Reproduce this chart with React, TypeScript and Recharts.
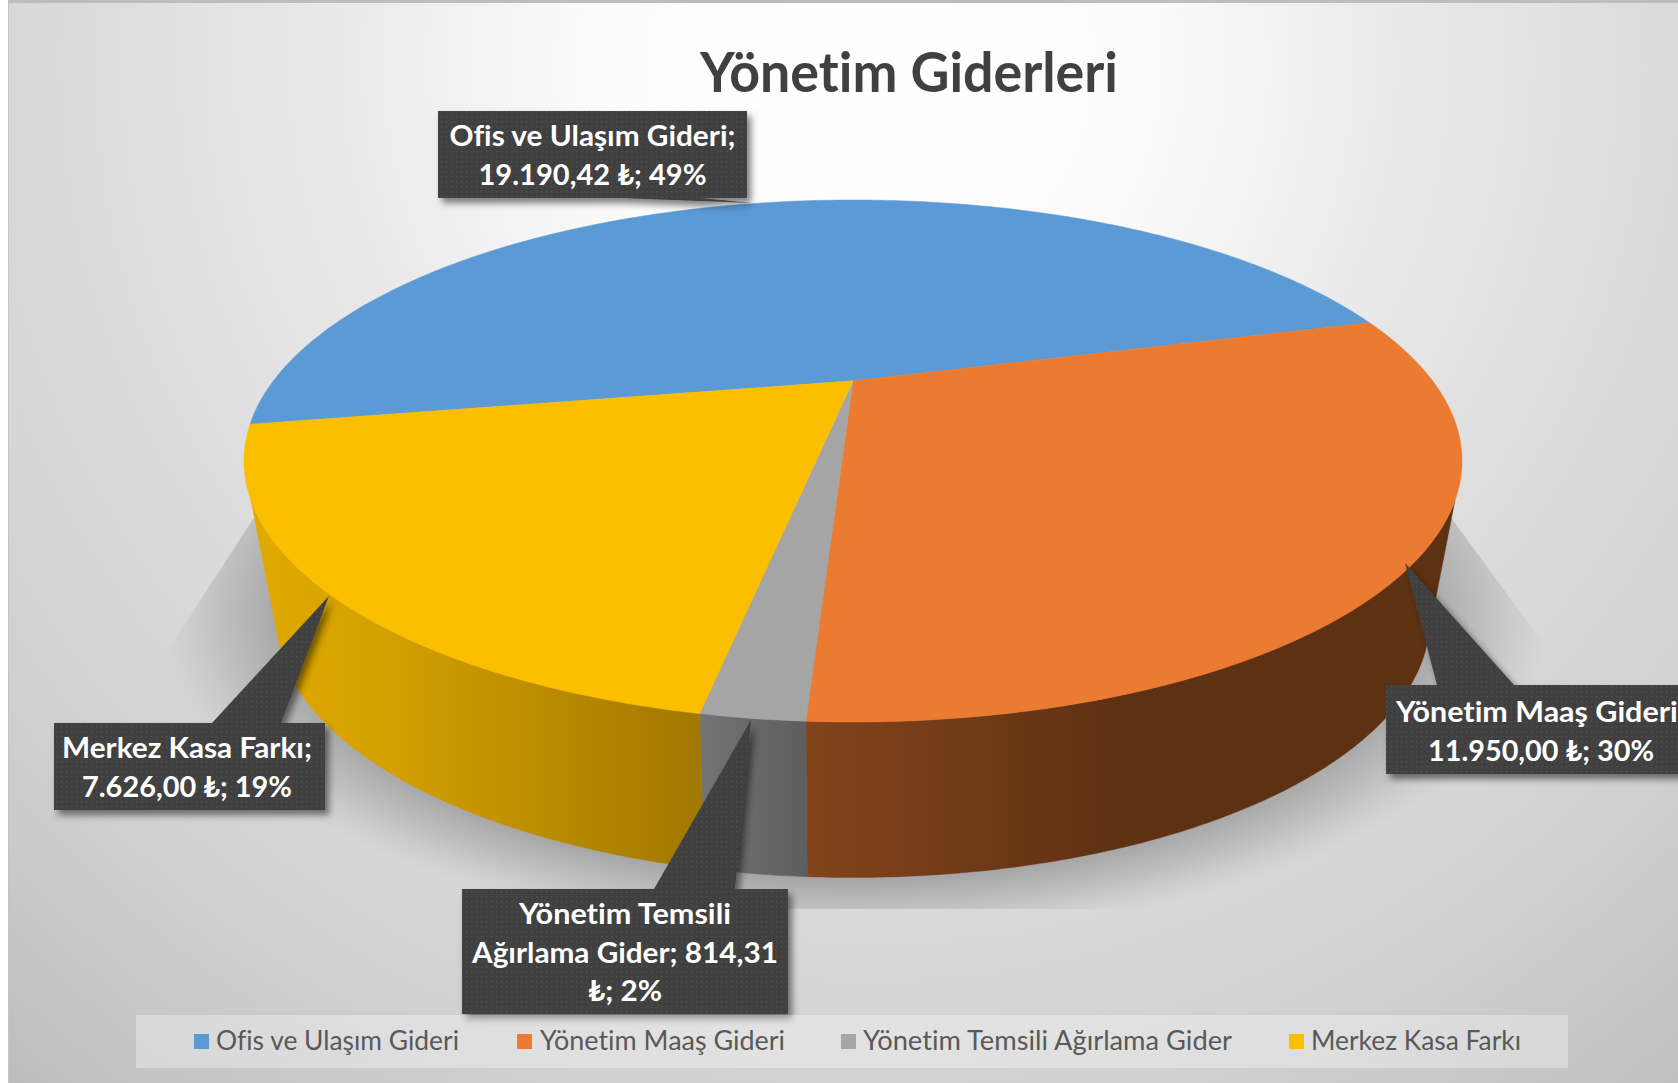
import React from 'react';
import { PieChart, Pie, Legend } from 'recharts';

const categories = ['Ofis ve Ulaşım Gideri', 'Yönetim Maaş Gideri', 'Yönetim Temsili Ağırlama Gider', 'Merkez Kasa Farkı'];
const values = [19190.42, 11950.0, 814.31, 7626.0];
const topColors = ['#5B9AD5', '#EB7B30', '#A5A5A5', '#FBBF00'];
const wallFills = ['#3b6a94', 'url(#wallOrange)', 'url(#wallGray)', 'url(#wallYellow)'];
const calloutLines = [
  ['Ofis ve Ulaşım Gideri;', '19.190,42 ₺; 49%'],
  ['Yönetim Maaş Gideri;', '11.950,00 ₺; 30%'],
  ['Yönetim Temsili', 'Ağırlama Gider; 814,31', '₺; 2%'],
  ['Merkez Kasa Farkı;', '7.626,00 ₺; 19%'],
];

// layout of the callouts: box, pointer, and each text line's width
const calloutBoxes = [
  { x: 438, y: 111, w: 309, h: 87, base: [620, 701], tip: [752, 203], firstBaseline: 146, widths: [286, 228] },
  { x: 1386, y: 685, w: 300, h: 89, base: [1437, 1514], tip: [1405, 563], firstBaseline: 722, widths: [290, 226], textCentre: 1541 },
  { x: 462, y: 889, w: 326, h: 125, base: [654, 735], tip: [751, 720], firstBaseline: 924, widths: [212, 306, 74] },
  { x: 54, y: 723, w: 271, h: 87, base: [212, 281], tip: [329, 596], firstBaseline: 758, widths: [250, 210], textCentre: 187 },
];
const LINE_GAP = 38.6;

const legendItems = [
  { sq: 58, tx: 80, w: 243 },
  { sq: 381, tx: 404, w: 245 },
  { sq: 705, tx: 727, w: 369 },
  { sq: 1153, tx: 1175, w: 210 },
];

const rows = categories.map((name, i) => ({ name, value: values[i], fill: topColors[i], wall: wallFills[i], idx: i }));

const CX = 853;
const CY = 461;
const R = 261;
const STRETCH = 609 / 261;
const TILT_TOP = -0.307;
const DEPTH = 157.5;
const BOTTOM_RX = 577 / 261;
const BOTTOM_RY = 259 / 261;
const TILT_BOTTOM = -0.33;
const VIS_RIGHT = -26;
const VIS_LEFT = -154;

const FONT = "Lato, 'Open Sans', sans-serif";

function project(angle: number, cx: number, cy: number, rx: number, ry: number, a: number): [number, number] {
  const t = (angle * Math.PI) / 180;
  const x = Math.cos(t);
  const y = -Math.sin(t);
  const d = 1 + a * y;
  return [cx + (x * Math.sqrt(1 - a * a) * rx) / d, cy + ((y + a) / d) * ry];
}

function arc(from: number, to: number, fn: (a: number) => [number, number]) {
  const n = Math.max(2, Math.ceil(Math.abs(to - from) / 0.5));
  const pts: [number, number][] = [];
  for (let i = 0; i <= n; i++) pts.push(fn(from + ((to - from) * i) / n));
  return pts;
}

const toPath = (pts: [number, number][]) =>
  pts.map((p, i) => `${i ? 'L' : 'M'}${p[0].toFixed(2)} ${p[1].toFixed(2)}`).join(' ') + ' Z';

function Slice3D(props: any) {
  const { cx, cy, outerRadius, startAngle, endAngle, fill } = props;
  const wall = props.wall ?? props.payload?.wall;
  const top = (a: number) => project(a, cx, cy, outerRadius * STRETCH, outerRadius, TILT_TOP);
  const bottom = (a: number) =>
    project(a, cx, cy + DEPTH, outerRadius * BOTTOM_RX, outerRadius * BOTTOM_RY, TILT_BOTTOM);
  const apex: [number, number] = [cx, cy + TILT_TOP * outerRadius];
  const hi = Math.min(startAngle, VIS_RIGHT);
  const lo = Math.max(endAngle, VIS_LEFT);
  return (
    <g>
      {hi > lo ? (
        <path d={toPath([...arc(hi, lo, top), ...arc(lo, hi, bottom)])} fill={wall} stroke={wall} strokeWidth={0.4} />
      ) : null}
      <path d={toPath([apex, ...arc(startAngle, endAngle, top)])} fill={fill} stroke={fill} strokeWidth={0.5} />
    </g>
  );
}

function Callout(props: any) {
  const i = props.index;
  const b = calloutBoxes[i];
  const lines = calloutLines[i];
  const [b0, b1] = b.base;
  const [tx, ty] = b.tip;
  const right = b.x + b.w;
  const bottom = b.y + b.h;
  const d =
    ty < b.y
      ? `M${b.x} ${b.y} L${b0} ${b.y} L${tx} ${ty} L${b1} ${b.y} L${right} ${b.y} L${right} ${bottom} L${b.x} ${bottom} Z`
      : `M${b.x} ${b.y} L${right} ${b.y} L${right} ${bottom} L${b1} ${bottom} L${tx} ${ty} L${b0} ${bottom} L${b.x} ${bottom} Z`;
  const centre = (b as any).textCentre ?? b.x + b.w / 2;
  return (
    <g>
      <path d={d} fill="url(#dots)" filter="url(#calloutShadow)" />
      {lines.map((line, k) => (
        <text
          key={k}
          x={centre}
          y={b.firstBaseline + k * LINE_GAP}
          textAnchor="middle"
          fontFamily={FONT}
          fontWeight={700}
          fontSize={29}
          fill="#ffffff"
          textLength={b.widths[k]}
          lengthAdjust="spacingAndGlyphs"
          style={{ fontVariantLigatures: 'none' }}
        >
          {line}
        </text>
      ))}
    </g>
  );
}

function LegendBar(props: any) {
  const payload = props.payload ?? [];
  return (
    <svg width={1432} height={53} style={{ display: 'block' }}>
      <rect width={1432} height={53} fill="#ffffff" fillOpacity={0.32} />
      {payload.map((entry: any, i: number) => (
        <g key={entry.value}>
          <rect x={legendItems[i].sq} y={19} width={15} height={15} fill={entry.color} />
          <text
            x={legendItems[i].tx}
            y={35}
            fontFamily={FONT}
            fontSize={27}
            fill="#595959"
            textLength={legendItems[i].w}
            lengthAdjust="spacingAndGlyphs"
            style={{ fontVariantLigatures: 'none' }}
          >
            {entry.value}
          </text>
        </g>
      ))}
    </svg>
  );
}

export default function App() {
  return (
    <div style={{ position: 'absolute', left: 0, top: 0, width: 1678, height: 1083, overflow: 'hidden', background: '#fff' }}>
      <div
        style={{
          position: 'absolute',
          left: 8,
          top: 0,
          right: 0,
          bottom: 0,
          borderTop: '3px solid #bdbdbd',
          borderLeft: '1px solid #c4c4c4',
          boxSizing: 'border-box',
          background:
            'radial-gradient(circle 1420px at 860px 60px, #ffffff 0%, #fbfbfb 20%, #e9e9e9 38%, #dcdcdc 55%, #d2d2d2 72%, #c4c4c4 88%, #b4b4b4 100%)',
        }}
      />
      <div style={{ position: 'absolute', left: 0, top: 0 }}>
        <PieChart width={1678} height={1083} margin={{ top: 0, right: 0, bottom: 0, left: 0 }}>
          <defs>
            <pattern id="dots" width="5" height="5" patternUnits="userSpaceOnUse">
              <rect width="5" height="5" fill="#3f3f3f" />
              <rect x="1" y="1" width="1.4" height="1.4" fill="#4f4f4f" />
            </pattern>
            <filter id="calloutShadow" x="-15%" y="-15%" width="130%" height="130%">
              <feDropShadow dx="4" dy="5" stdDeviation="3.5" floodColor="#000" floodOpacity="0.5" />
            </filter>
            <linearGradient id="wallOrange" gradientUnits="userSpaceOnUse" x1="805" y1="0" x2="1120" y2="0">
              <stop offset="0" stopColor="#82441b" />
              <stop offset="1" stopColor="#5e3113" />
            </linearGradient>
            <linearGradient id="wallGray" gradientUnits="userSpaceOnUse" x1="701" y1="0" x2="808" y2="0">
              <stop offset="0" stopColor="#747474" />
              <stop offset="1" stopColor="#5d5d5d" />
            </linearGradient>
            <linearGradient id="wallYellow" gradientUnits="userSpaceOnUse" x1="250" y1="0" x2="705" y2="0">
              <stop offset="0" stopColor="#e0aa00" />
              <stop offset="0.3" stopColor="#d4a000" />
              <stop offset="1" stopColor="#a07700" />
            </linearGradient>
            <radialGradient
              id="ground"
              gradientUnits="userSpaceOnUse"
              cx="0"
              cy="0"
              r="1"
              gradientTransform="translate(853 610) scale(700 330)"
            >
              <stop offset="0.8" stopColor="#9e9e9e" stopOpacity="0.95" />
              <stop offset="0.9" stopColor="#a8a8a8" stopOpacity="0.55" />
              <stop offset="1" stopColor="#b8b8b8" stopOpacity="0" />
            </radialGradient>
            <clipPath id="groundClip">
              <polygon points="253,519 165,655 120,909 1590,909 1552,655 1452,519" />
            </clipPath>
          </defs>
          <g clipPath="url(#groundClip)">
            <ellipse cx={853} cy={610} rx={700} ry={330} fill="url(#ground)" />
          </g>
          <text
            x={909}
            y={92}
            textAnchor="middle"
            fontFamily={FONT}
            fontWeight={700}
            fontSize={55}
            fill="#404040"
            textLength={418}
            lengthAdjust="spacingAndGlyphs"
            style={{ fontVariantLigatures: 'none' }}
          >
            Yönetim Giderleri
          </text>
          <Pie
            data={rows}
            dataKey="value"
            nameKey="name"
            cx={CX}
            cy={CY}
            innerRadius={0}
            outerRadius={R}
            startAngle={190}
            endAngle={-170}
            stroke="none"
            isAnimationActive={false}
            shape={Slice3D}
            label={Callout}
            labelLine={false}
          />
          <Legend
            content={LegendBar}
            itemSorter={null}
            wrapperStyle={{ position: 'absolute', left: 136, top: 1015, width: 1432, height: 53, bottom: 'auto' }}
          />
        </PieChart>
      </div>
    </div>
  );
}
